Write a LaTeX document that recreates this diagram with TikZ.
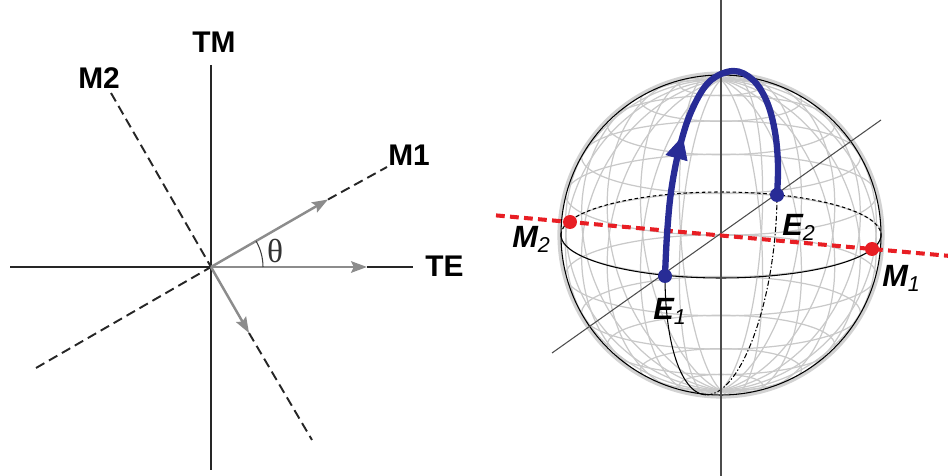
\documentclass[tikz,border=0pt]{standalone}
\usepackage{fontspec}
\setmainfont{Liberation Sans}
\newfontfamily\thetafont{Liberation Serif}
\usetikzlibrary{arrows.meta,decorations.markings}
\definecolor{trajblue}{RGB}{40,44,150}
\definecolor{modered}{RGB}{232,30,36}
\begin{document}
\begin{tikzpicture}[x=0.02cm, y=-0.02cm,
  every node/.style={font=\fontsize{17}{17}\selectfont\bfseries, inner sep=0pt, anchor=base west},
  ax/.style={line width=1.1pt, black!85},
  modeaxis/.style={ax, dash pattern=on 5.5pt off 3pt},
  proj/.style={line width=1.4pt, black!45, -{Stealth[length=9pt,width=6.5pt,inset=1.5pt]}},
  wire/.style={gray!42, line width=0.7pt},
  thinaxis/.style={black!70, line width=0.6pt},
  rim/.style={black, line width=0.6pt},
  slab/.style={font=\fontsize{17.5}{17.5}\selectfont\bfseries\itshape}]
  \useasboundingbox (0,0) rectangle (948,476);
  % left: TE/TM frame and rotated mode axes
  \coordinate (O) at (211,267);
  \coordinate (tmTop) at (211,65);   \coordinate (tmBot) at (211,470);
  \coordinate (teL) at (10,267);     \coordinate (teR) at (413,267);
  \coordinate (mOneA) at (36,368);   \coordinate (mOneB) at (387,167);
  \coordinate (mTwoA) at (111,93);   \coordinate (mTwoB) at (312,440);
  \coordinate (pTE) at (367,267); \coordinate (pOne) at (328,199.5); \coordinate (pTwo) at (249,333);
  \draw[ax] (tmTop) -- (tmBot);
  \draw[ax] (teL) -- (O);
  \draw[ax] (pTE) -- (teR);
  \draw[modeaxis] (mOneA) -- (O);
  \draw[modeaxis] (pOne) -- (mOneB);
  \draw[modeaxis] (mTwoA) -- (O);
  \draw[modeaxis] (pTwo) -- (mTwoB);
  \draw[proj] (O) -- (pTE);
  \draw[proj] (O) -- (pOne);
  \draw[proj] (O) -- (pTwo);
  \draw[black!75, line width=0.6pt] (263,267) arc[start angle=0, end angle=-30, radius=52];
  \node[anchor=center, font=\fontsize{19}{19}\selectfont\thetafont, text=black!80] (theta) at (275,251) {θ};
  \node (lTM) at (192,53) {TM};
  \node (lMtwo) at (78,89) {M2};
  \node (lMone) at (388,166) {M1};
  \node (lTE) at (425,277) {TE};
  % right: Poincare sphere
  \coordinate (C) at (721,235);
  \foreach \la in {-75,-60,...,75}
    \draw[wire] ({721},{235-155.5*sin(\la)}) ellipse [x radius={161*cos(\la)}, y radius={42*cos(\la)}];
  \foreach \lo in {0,15,...,165}
    \draw[wire] plot[domain=0:360, samples=61, smooth]
      ({721+161*cos(\x)*sin(\lo)}, {235-161*(0.9659*sin(\x)-0.2625*cos(\x)*cos(\lo))});
  \draw[gray!35, line width=1.8pt] (C) circle[radius=162];
  \draw[rim] (C) circle[radius=160];
  % equator: front solid, back dashed
  \draw[rim] plot[domain=0:180, samples=50, smooth] ({721+160*cos(\x)},{235+43*sin(\x)});
  \draw[rim, dash pattern=on 2pt off 1.5pt] plot[domain=180:360, samples=50, smooth] ({721+160*cos(\x)},{235+43*sin(\x)});
  % meridian through E1 and E2
  \draw[rim] plot[domain=-75:0, samples=30, smooth] ({721-56*cos(\x)},{235+41*cos(\x)-154.5*sin(\x)});
  \draw[rim, dash pattern=on 3pt off 1.2pt on 0.8pt off 1.2pt] plot[domain=-180:-75, samples=40, smooth] ({721-56*cos(\x)},{235+41*cos(\x)-154.5*sin(\x)});
  % axes
  \coordinate (zTop) at (721,0); \coordinate (zBot) at (721,476);
  \coordinate (dA) at (552,353); \coordinate (dB) at (881,120);
  \draw[thinaxis] (zTop) -- (zBot);
  \draw[thinaxis] (dA) -- (dB);
  % mode points and trajectory
  \coordinate (M2) at (570,222); \coordinate (M1) at (872,249);
  \coordinate (E1) at (665,276); \coordinate (E2) at (777,195);
  \coordinate (rL) at (496,215.4); \coordinate (rR) at (948,255.8);
  \draw[modered, line width=2.3pt, dash pattern=on 5pt off 3pt] (rL) -- (rR);
  \draw[trajblue, line width=3.6pt, line cap=round,
    decoration={markings, mark=at position 0.38 with {\arrow[line width=0.4pt]{Triangle[length=13pt,width=13pt]}}},
    postaction={decorate}]
    plot[smooth, tension=0.6] coordinates {(E1) (667,235) (671,192) (679,150) (691,112) (709,82) (733,71) (753,80) (767,102) (775,132) (778,165) (E2)};
  \fill[trajblue] (E1) circle[radius=7];
  \fill[trajblue] (E2) circle[radius=7];
  \fill[modered] (M1) circle[radius=7];
  \fill[modered] (M2) circle[radius=7];
  \node[slab] (lM2) at (512,248) {M\textsubscript{\mdseries 2}};
  \node[slab] (lM1) at (882,287) {M\textsubscript{\mdseries 1}};
  \node[slab] (lE1) at (653,320) {E\textsubscript{\mdseries 1}};
  \node[slab] (lE2) at (782,236) {E\textsubscript{\mdseries 2}};
\end{tikzpicture}
\end{document}
